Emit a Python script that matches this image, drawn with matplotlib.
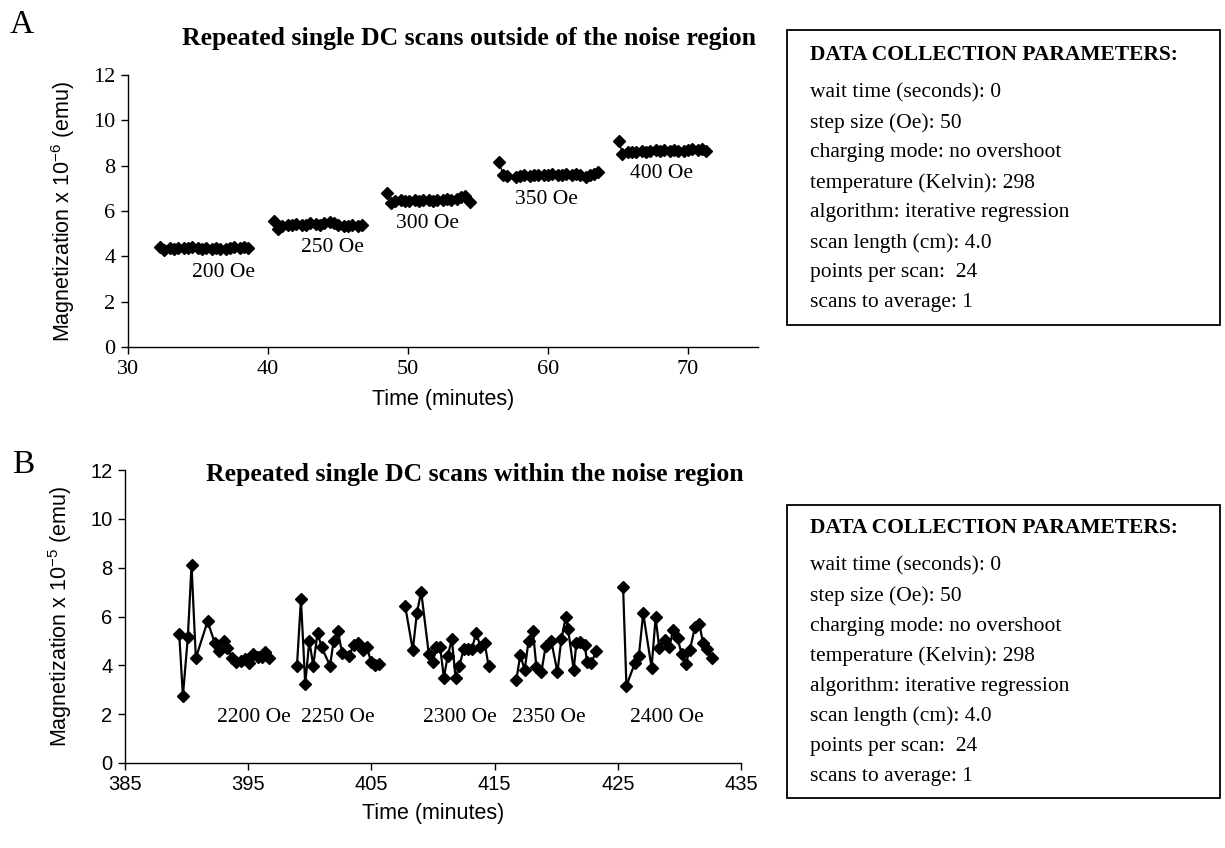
import matplotlib
matplotlib.use("Agg")
import matplotlib.pyplot as plt

# Panel A: repeated single DC scans outside of the noise region (x 10^-6 emu)
time_200 = [32.3, 32.6, 33.0, 33.3, 33.6, 34.0, 34.3, 34.6, 35.0, 35.3,
            35.6, 36.0, 36.3, 36.6, 37.0, 37.3, 37.6, 38.0, 38.3, 38.6]
mag_200 = [4.42, 4.30, 4.35, 4.33, 4.36, 4.38, 4.35, 4.40, 4.37, 4.34,
           4.36, 4.33, 4.35, 4.32, 4.34, 4.36, 4.40, 4.38, 4.42, 4.37]
time_250 = [40.4, 40.7, 41.0, 41.4, 41.7, 42.0, 42.4, 42.7, 43.0, 43.4,
            43.7, 44.0, 44.4, 44.7, 45.0, 45.4, 45.7, 46.0, 46.4, 46.7]
mag_250 = [5.57, 5.20, 5.35, 5.40, 5.38, 5.42, 5.37, 5.40, 5.45, 5.42,
           5.40, 5.45, 5.52, 5.45, 5.38, 5.36, 5.35, 5.37, 5.36, 5.38]
time_300 = [48.5, 48.8, 49.1, 49.5, 49.8, 50.1, 50.5, 50.8, 51.1, 51.5,
            51.8, 52.1, 52.5, 52.8, 53.1, 53.5, 53.8, 54.1, 54.4]
mag_300 = [6.80, 6.35, 6.45, 6.50, 6.42, 6.45, 6.48, 6.45, 6.50, 6.47,
           6.45, 6.50, 6.48, 6.52, 6.50, 6.55, 6.60, 6.65, 6.40]
time_350 = [56.5, 56.8, 57.1, 57.7, 58.0, 58.3, 58.7, 59.0, 59.3, 59.7, 60.0,
            60.3, 60.7, 61.0, 61.3, 61.7, 62.0, 62.3, 62.7, 63.0, 63.3, 63.6]
mag_350 = [8.15, 7.60, 7.55, 7.50, 7.55, 7.58, 7.55, 7.60, 7.57, 7.60, 7.58,
           7.62, 7.60, 7.58, 7.62, 7.60, 7.65, 7.60, 7.50, 7.60, 7.65, 7.70]
time_400 = [65.1, 65.3, 65.7, 66.0, 66.3, 66.7, 67.0, 67.3, 67.7, 68.0,
            68.3, 68.7, 69.0, 69.3, 69.7, 70.0, 70.3, 70.7, 71.0, 71.3]
mag_400 = [9.10, 8.50, 8.60, 8.62, 8.60, 8.65, 8.62, 8.65, 8.68, 8.65,
           8.67, 8.65, 8.68, 8.66, 8.65, 8.70, 8.75, 8.70, 8.72, 8.65]

# Panel B: repeated single DC scans within the noise region (x 10^-5 emu)
time_2200 = [389.4, 389.7, 390.1, 390.4, 390.75, 391.7, 392.3, 392.6, 393.0, 393.3,
             393.7, 394.0, 394.4, 394.7, 395.1, 395.4, 395.8, 396.1, 396.4, 396.7]
mag_2200 = [5.3, 2.75, 5.15, 8.1, 4.3, 5.8, 4.9, 4.6, 5.0, 4.72,
            4.3, 4.13, 4.18, 4.25, 4.08, 4.45, 4.33, 4.33, 4.55, 4.3]
time_2250 = [398.96, 399.28, 399.63, 399.96, 400.28, 400.63, 400.96, 401.64, 401.94, 402.29,
             402.62, 403.21, 403.56, 403.89, 404.29, 404.62, 404.97, 405.33, 405.65]
mag_2250 = [3.99, 6.7, 3.24, 5.0, 3.99, 5.34, 4.74, 3.99, 5.0, 5.4,
            4.5, 4.4, 4.84, 4.9, 4.63, 4.77, 4.15, 4.02, 4.06]
time_2300 = [407.74, 408.36, 408.69, 409.04, 409.66, 409.98, 410.26, 410.58, 410.88, 411.2,
             411.53, 411.83, 412.15, 412.48, 412.83, 413.15, 413.51, 413.84, 414.19, 414.51]
mag_2300 = [6.43, 4.63, 6.13, 7.02, 4.47, 4.13, 4.77, 4.74, 3.5, 4.39,
            5.07, 3.5, 3.98, 4.66, 4.66, 4.66, 5.34, 4.77, 4.93, 3.98]
time_2350 = [416.76, 417.09, 417.44, 417.76, 418.11, 418.39, 418.8, 419.15, 419.6, 420.1,
             420.42, 420.77, 420.96, 421.42, 421.64, 421.97, 422.32, 422.5, 422.86, 423.27]
mag_2350 = [3.4, 4.43, 3.81, 5.01, 5.41, 3.95, 3.74, 4.8, 4.99, 3.72,
            5.07, 5.96, 5.49, 3.81, 4.93, 4.97, 4.84, 4.15, 4.11, 4.6]
time_2400 = [425.43, 425.7, 426.38, 426.71, 427.06, 427.74, 428.07, 428.36, 428.82, 429.17,
             429.5, 429.85, 430.18, 430.5, 430.85, 431.26, 431.61, 431.93, 432.26, 432.66]
mag_2400 = [7.19, 3.16, 4.09, 4.39, 6.13, 3.91, 5.96, 4.73, 5.04, 4.77,
            5.45, 5.11, 4.47, 4.04, 4.63, 5.56, 5.7, 4.9, 4.66, 4.32]

series_a = [(time_200, mag_200), (time_250, mag_250), (time_300, mag_300),
            (time_350, mag_350), (time_400, mag_400)]
series_b = [(time_2200, mag_2200), (time_2250, mag_2250), (time_2300, mag_2300),
            (time_2350, mag_2350), (time_2400, mag_2400)]

labels_a = ["200 Oe", "250 Oe", "300 Oe", "350 Oe", "400 Oe"]
label_pos_a = [(36.8, 3.3), (44.6, 4.4), (51.4, 5.45), (59.9, 6.5), (68.1, 7.65)]
labels_b = ["2200 Oe", "2250 Oe", "2300 Oe", "2350 Oe", "2400 Oe"]
label_pos_b = [(395.5, 1.85), (402.3, 1.85), (412.2, 1.85), (419.4, 1.85), (429.0, 1.85)]

params = ["wait time (seconds): 0",
          "step size (Oe): 50",
          "charging mode: no overshoot",
          "temperature (Kelvin): 298",
          "algorithm: iterative regression",
          "scan length (cm): 4.0",
          "points per scan:  24",
          "scans to average: 1"]

SERIF = ["Liberation Serif", "DejaVu Serif"]
SANS = ["Liberation Sans", "DejaVu Sans"]

W, H = 1225, 848
fig = plt.figure(figsize=(W / 100, H / 100), dpi=100)


def px(x, y):
    # pixel position (from top-left) -> figure fraction
    return x / W, 1 - y / H


def style_axes(ax, tick_family, tick_size):
    for side in ["top", "right"]:
        ax.spines[side].set_visible(False)
    for side in ["left", "bottom"]:
        ax.spines[side].set_linewidth(1.0)
        ax.spines[side].set_color("black")
    ax.tick_params(direction="out", length=5, width=1.0, pad=4)
    for lab in ax.get_xticklabels() + ax.get_yticklabels():
        lab.set_family(tick_family)
        lab.set_fontsize(tick_size)


def param_box(top, bottom, header_y, first_y):
    x0, y0 = px(787, bottom)
    x1, y1 = px(1220, top)
    rect = plt.Rectangle((x0, y0), x1 - x0, y1 - y0, transform=fig.transFigure,
                         fill=False, edgecolor="black", linewidth=1.3)
    fig.add_artist(rect)
    fig.text(*px(810, header_y), "DATA COLLECTION PARAMETERS:", family=SERIF,
             fontsize=15.5, fontweight="bold", va="center", ha="left")
    for i, line in enumerate(params):
        fig.text(*px(810, first_y + 30 * i), line, family=SERIF,
                 fontsize=15.5, va="center", ha="left")


# ---- Panel A ----
ax_a = fig.add_axes([128 / W, 1 - 347 / H, 630 / W, 272 / H])
for t, m in series_a:
    ax_a.plot(t, m, color="black", linewidth=1.0, marker="D", markersize=6.5)
for lab, (lx, ly) in zip(labels_a, label_pos_a):
    ax_a.text(lx, ly, lab, family=SERIF, fontsize=15.5, ha="center", va="center")
ax_a.set_xlim(30, 75)
ax_a.set_ylim(0, 12)
ax_a.set_xticks([30, 40, 50, 60, 70])
ax_a.set_yticks([0, 2, 4, 6, 8, 10, 12])
style_axes(ax_a, SERIF, 16)

fig.text(*px(22, 25), "A", family=SERIF, fontsize=24, ha="center", va="center")
fig.text(*px(469, 38), "Repeated single DC scans outside of the noise region",
         family=SERIF, fontsize=18.5, fontweight="bold", ha="center", va="center")
fig.text(*px(63, 211), "Magnetization x 10$^{\\mathregular{-6}}$ (emu)", family=SANS,
         fontsize=15.5, rotation=90, ha="center", va="center")
fig.text(*px(443, 400), "Time (minutes)", family=SANS, fontsize=15.5,
         ha="center", va="center")
param_box(30, 325, 55, 93)

# ---- Panel B ----
ax_b = fig.add_axes([125 / W, 1 - 763 / H, 616 / W, 293 / H])
for t, m in series_b:
    ax_b.plot(t, m, color="black", linewidth=1.6, marker="D", markersize=6.5)
for lab, (lx, ly) in zip(labels_b, label_pos_b):
    ax_b.text(lx, ly, lab, family=SERIF, fontsize=15.5, ha="center", va="center")
ax_b.set_xlim(385, 435)
ax_b.set_ylim(0, 12)
ax_b.set_xticks([385, 395, 405, 415, 425, 435])
ax_b.set_yticks([0, 2, 4, 6, 8, 10, 12])
style_axes(ax_b, SANS, 14.5)

fig.text(*px(23, 465), "B", family=SERIF, fontsize=24, ha="center", va="center")
fig.text(*px(475, 474), "Repeated single DC scans within the noise region",
         family=SERIF, fontsize=18.5, fontweight="bold", ha="center", va="center")
fig.text(*px(60, 616), "Magnetization x 10$^{\\mathregular{-5}}$ (emu)", family=SANS,
         fontsize=15.5, rotation=90, ha="center", va="center")
fig.text(*px(433, 814), "Time (minutes)", family=SANS, fontsize=15.5,
         ha="center", va="center")
param_box(505, 798, 528, 566)

fig.savefig("out.png", dpi=100)
